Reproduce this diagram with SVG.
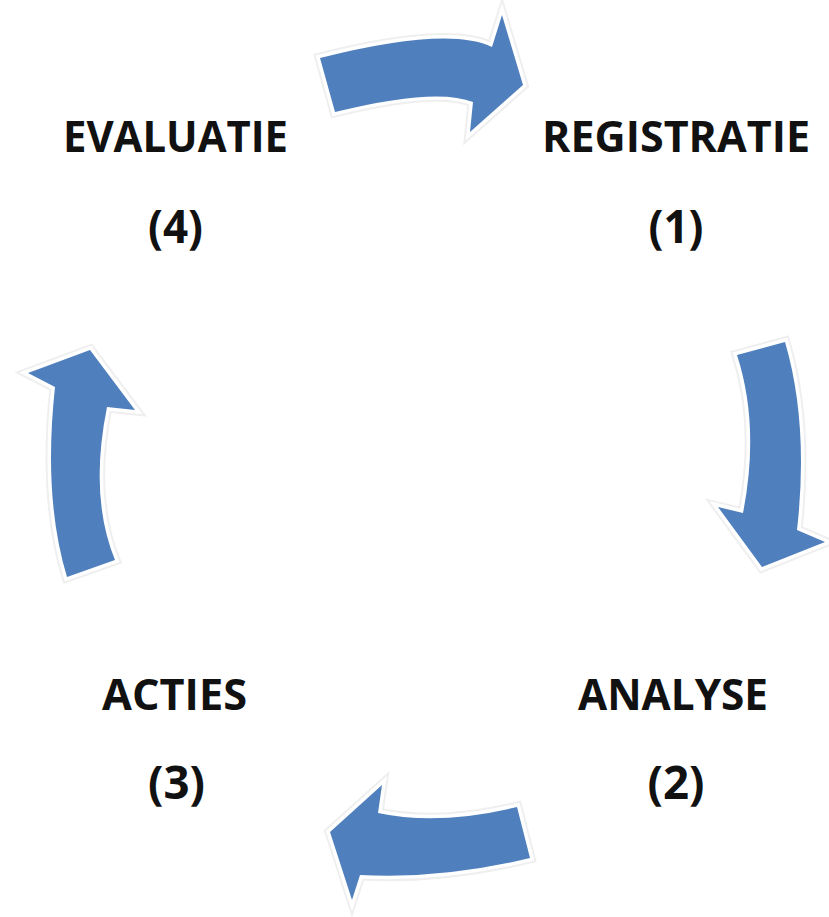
<svg xmlns="http://www.w3.org/2000/svg" width="829" height="917" viewBox="0 0 829 917">
  <defs>
    <style>
      .halo { fill: none; stroke: #efefef; stroke-width: 11; stroke-linejoin: miter; }
      .halo2 { fill: none; stroke: #ffffff; stroke-width: 7; stroke-linejoin: miter; }
      .arr { fill: #4F7FBC; stroke: none; }
      .lbl { font-family: "Open Sans", "Noto Sans", "Liberation Sans", sans-serif; font-weight: bold; font-size: 43px; fill: #111111; text-anchor: middle; }
      .num { font-size: 46px; }
    </style>
    <path id="p-top" d="M320,58 Q448,25.5 492,47 L502,15 L523,85 L470,132 L473,102 Q436,87 335,112 Z"/>
    <path id="p-right" d="M737,355 L785,342 Q809,424 797,530 L825,542 L762,567 L718,507 L743,513 Q760,426 737,355 Z"/>
    <path id="p-bottom" d="M517,807 Q438.5,826 378,813 L382,785 L330,832 L352,900 L360,875 Q441,879.5 530,858 Z"/>
    <path id="p-left" d="M90,350 L135,410 L107,407 Q89,496.5 115,560 L67,577 Q43,498 55,387 L28,373 Z"/>
  </defs>
  <rect x="0" y="0" width="829" height="917" fill="#ffffff"/>
  <g id="connectors">
    <g id="arrow-1-2"><use href="#p-right" class="halo"/><use href="#p-right" class="halo2"/><use href="#p-right" class="arr"/></g>
    <g id="arrow-2-3"><use href="#p-bottom" class="halo"/><use href="#p-bottom" class="halo2"/><use href="#p-bottom" class="arr"/></g>
    <g id="arrow-3-4"><use href="#p-left" class="halo"/><use href="#p-left" class="halo2"/><use href="#p-left" class="arr"/></g>
    <g id="arrow-4-1"><use href="#p-top" class="halo"/><use href="#p-top" class="halo2"/><use href="#p-top" class="arr"/></g>
  </g>
  <g id="node-registratie">
    <text class="lbl" x="676" y="152" textLength="268" lengthAdjust="spacingAndGlyphs">REGISTRATIE</text>
    <text class="lbl num" x="676" y="243" textLength="55" lengthAdjust="spacingAndGlyphs">(1)</text>
  </g>
  <g id="node-analyse">
    <text class="lbl" x="673" y="710" textLength="190" lengthAdjust="spacingAndGlyphs">ANALYSE</text>
    <text class="lbl num" x="676" y="799" textLength="57" lengthAdjust="spacingAndGlyphs">(2)</text>
  </g>
  <g id="node-acties">
    <text class="lbl" x="174.5" y="710" textLength="145" lengthAdjust="spacingAndGlyphs">ACTIES</text>
    <text class="lbl num" x="176.5" y="799" textLength="57" lengthAdjust="spacingAndGlyphs">(3)</text>
  </g>
  <g id="node-evaluatie">
    <text class="lbl" x="175.5" y="152" textLength="225" lengthAdjust="spacingAndGlyphs">EVALUATIE</text>
    <text class="lbl num" x="175.5" y="243" textLength="55" lengthAdjust="spacingAndGlyphs">(4)</text>
  </g>
</svg>
